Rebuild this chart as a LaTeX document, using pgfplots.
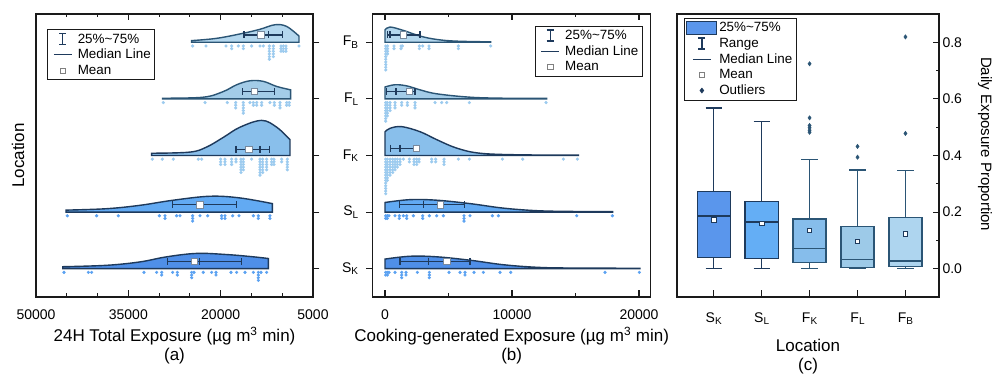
\documentclass[border=0pt]{standalone}
\usepackage{fontspec}
\setmainfont{Liberation Sans}
\usepackage{pgfplots}
\pgfplotsset{compat=1.18}

\definecolor{dk}{HTML}{1E3A5C}
\definecolor{dkF}{HTML}{2B5575}
\definecolor{vSK}{HTML}{4F8FE8}
\definecolor{vSL}{HTML}{62AAF3}
\definecolor{vFK}{HTML}{89BFEB}
\definecolor{vFL}{HTML}{A3CCE8}
\definecolor{vFB}{HTML}{B4D7EE}
\definecolor{dotS}{HTML}{5BA2F2}
\definecolor{dotF}{HTML}{9CCBEF}
\definecolor{bSK}{HTML}{5A96EC}
\definecolor{bSL}{HTML}{64AEF5}
\definecolor{bFK}{HTML}{86BDEB}
\definecolor{bFL}{HTML}{9DCAE8}
\definecolor{bFB}{HTML}{AED5EF}
\definecolor{frame}{HTML}{1A1A1A}

\newcommand{\tickfont}{\fontsize{14}{16}\selectfont}
\newcommand{\labfont}{\fontsize{17}{19}\selectfont}
\newcommand{\legfont}{\fontsize{13.4}{15}\selectfont}
\newcommand{\sub}[1]{\raisebox{-0.35ex}{\fontsize{10}{10}\selectfont #1}}

\pgfplotsset{
  base/.style={
    scale only axis, height=283pt,
    axis line style={line width=1.4pt, frame},
    tick style={line width=1.1pt, frame},
    major tick length=6.5pt, minor tick length=3.5pt,
    tick align=inside,
    tick label style={font=\tickfont},
    label style={font=\labfont},
    /pgf/number format/assume math mode=true,
    /pgf/number format/1000 sep={},
    scaled ticks=false,
    legend style={font=\legfont, draw=frame, line width=0.8pt, inner xsep=2pt, inner ysep=2pt,
      row sep=0.7pt, column sep=0pt, fill=white},
    legend cell align=left,
  },
  % legend images (width W, centre W/2)
  limgIbar/.style={legend image code/.code={
     \path[draw=none, fill=none] (0pt,0pt) -- (#1,0pt);
     \draw[dk, line width=1.3pt] (#1/2,-5.5pt) -- (#1/2,5.5pt);
     \draw[dk, line width=1.3pt] (#1/2-3.5pt,-5.5pt) -- (#1/2+3.5pt,-5.5pt);
     \draw[dk, line width=1.3pt] (#1/2-3.5pt,5.5pt) -- (#1/2+3.5pt,5.5pt);}},
  limgLine/.style={legend image code/.code={
     \path[draw=none, fill=none] (0pt,0pt) -- (#1,0pt);
     \draw[dk, line width=1.3pt] (#1/2-9pt,0pt) -- (#1/2+9pt,0pt);}},
  limgMean/.style={legend image code/.code={
     \path[draw=none, fill=none] (0pt,0pt) -- (#1,0pt);
     \draw[gray, fill=white, line width=0.6pt] (#1/2-2.6pt,-2.6pt) rectangle (#1/2+2.6pt,2.6pt);}},
  limgMeanS/.style={legend image code/.code={
     \path[draw=none, fill=none] (0pt,0pt) -- (#1,0pt);
     \draw[gray, fill=white, line width=0.6pt] (#1/2-2.2pt,-2.2pt) rectangle (#1/2+2.2pt,2.2pt);}},
  limgOut/.style={legend image code/.code={
     \path[draw=none, fill=none] (0pt,0pt) -- (#1,0pt);
     \fill[dk] (#1/2,2.3pt) -- (#1/2+1.8pt,0pt) -- (#1/2,-2.3pt) -- (#1/2-1.8pt,0pt) -- cycle;}},
  limgBox/.style={legend image code/.code={
     \draw[draw=dk, fill=bSK, line width=0.8pt] (0pt,-6.5pt) rectangle (#1,6.5pt);}},
  ibox/.style={dk, line width=1.2pt, mark=|, mark size=3.5pt, mark options={solid, line width=1.2pt}, forget plot},
  imed/.style={dk, only marks, mark=|, mark size=3.5pt, mark options={line width=1.2pt}, forget plot},
  imean/.style={only marks, mark=square*, mark size=3.2pt, mark options={fill=white, draw=dk!60, line width=0.6pt}, forget plot},
  dotsS/.style={only marks, color=dotS, mark=*, mark size=1.4pt, forget plot},
  dotsF/.style={only marks, color=dotF, mark=*, mark size=1.4pt, forget plot},
  vio/.style={fill=#1, line width=1.4pt, smooth, tension=0.6, forget plot},
  cbox/.style={line width=1.3pt, forget plot},
}

\begin{document}
\begin{tikzpicture}
\path[use as bounding box, fill=white] (0,0) rectangle (994pt,374pt);

% ================= Panel (a) =================
\begin{axis}[base,
  at={(36pt,77pt)}, anchor=south west, width=277pt,
  xmin=5000, xmax=50000, x dir=reverse,
  ymin=0.5, ymax=5.5,
  xtick={5000,20000,35000,50000},
  minor xtick={10000,15000,25000,30000,40000,45000},
  xtick pos=both, xticklabel pos=left,
  ytick={1,2,3,4,5}, yticklabels={}, ytick pos=right,
  y tick style={xshift=6.5pt},
  xticklabel style={yshift=-9.5pt},
  xlabel={24H Total Exposure (µg m\textsuperscript{3} min)\\(a)},
  xlabel style={align=center, at={(axis description cs:0.5,0)}, anchor=north, yshift=-30pt, inner sep=0pt},
  ylabel={Location},
  ylabel style={at={(axis description cs:-0.065,0.5)}, anchor=center},
  legend style={at={(0.041,0.946)}, anchor=north west},
]
% dots
\addplot[dotsS] table[row sep=\\, x=x, y expr={1-0.065-0.047*\thisrow{r}}] {x r\\
45450 0\\41500 0\\40960 0\\32460 0\\30400 0\\29580 0\\29580 1\\27800 0\\27040 0\\27040 1\\
24710 0\\24710 1\\24710 2\\24330 0\\22820 0\\21460 0\\20760 0\\20760 1\\18320 0\\17400 0\\
16050 0\\14690 0\\13880 0\\13880 1\\13880 2\\13880 3\\13450 0\\12530 0\\};
\addplot[dotsS] table[row sep=\\, x=x, y expr={2-0.065-0.047*\thisrow{r}}] {x r\\
44910 0\\40150 0\\36630 0\\29960 0\\29040 0\\29040 1\\27150 0\\26610 0\\24550 0\\24550 1\\
24550 2\\23360 0\\22110 0\\19840 0\\19840 1\\19300 0\\19300 1\\18050 0\\17020 0\\14690 0\\
13880 0\\13880 1\\12000 0\\12000 1\\};
\addplot[dotsF] table[row sep=\\, x=x, y expr={3-0.065-0.047*\thisrow{r}}] {x r\\
31100 0\\29480 0\\27690 0\\23630 0\\23090 0\\20000 0\\20000 1\\20000 2\\19300 0\\19300 1\\
19300 2\\18220 0\\18220 1\\18220 2\\17510 0\\17510 1\\16700 0\\16700 1\\16700 2\\16700 3\\
16700 4\\16700 5\\16320 0\\16320 1\\16320 2\\16320 3\\16320 4\\14970 0\\13610 0\\13610 1\\
13610 2\\13610 3\\13610 4\\13610 5\\13610 6\\13180 0\\13180 1\\13180 2\\13180 3\\13180 4\\
13180 5\\12530 0\\12530 1\\12530 2\\12530 3\\12530 4\\11720 0\\11720 1\\11720 2\\11340 0\\
11340 1\\11340 2\\10090 0\\10090 1\\9170 0\\9170 1\\9170 2\\9170 3\\9170 4\\};
\addplot[dotsF] table[row sep=\\, x=x, y expr={4-0.065-0.047*\thisrow{r}}] {x r\\
29310 0\\22540 0\\18920 0\\17560 0\\17560 1\\17560 2\\16320 0\\16320 1\\16320 2\\16320 3\\
16320 4\\15240 0\\14690 0\\14690 1\\14150 0\\14150 1\\13340 0\\13340 1\\11990 0\\11280 0\\
11280 1\\10360 0\\10360 1\\10360 2\\9280 0\\9280 1\\8850 0\\8850 1\\};
\addplot[dotsF] table[row sep=\\, x=x, y expr={5-0.065-0.047*\thisrow{r}}] {x r\\
24550 0\\22380 0\\19130 0\\18210 0\\18210 1\\17130 0\\16320 0\\16320 1\\14970 0\\13610 0\\
13070 0\\12090 0\\12090 1\\12090 2\\12090 3\\12090 4\\12090 5\\11440 0\\11440 1\\11440 2\\
11440 3\\11440 4\\10200 0\\10200 1\\10200 2\\9820 0\\9820 1\\9820 2\\9390 0\\9390 1\\
9390 2\\7280 0\\};
% violins
\addplot[vio=vSK, draw=dk] coordinates {(45660,1.035) (38520,1.06) (33100,1.12) (28770,1.21) (23900,1.27) (19020,1.25) (14700,1.21) (12260,1.18)} -- (axis cs:12260,1) -- (axis cs:45660,1) -- cycle;
\addplot[vio=vSL, draw=dk] coordinates {(45130,2.035) (38520,2.06) (33100,2.12) (27700,2.21) (21740,2.28) (16860,2.25) (11600,2.15)} -- (axis cs:11600,2) -- (axis cs:45130,2) -- cycle;
\addplot[vio=vFK, draw=dk] coordinates {(31205,3.04) (24984,3.06) (22270,3.15) (19570,3.32) (16860,3.50) (13340,3.62) (10900,3.50) (8740,3.28)} -- (axis cs:8740,3) -- (axis cs:31205,3) -- cycle;
\addplot[vio=vFL, draw=dkF] coordinates {(29420,4.012) (22820,4.03) (19570,4.13) (17400,4.25) (15240,4.32) (13080,4.31) (10900,4.22) (8630,4.16)} -- (axis cs:8630,4) -- (axis cs:29420,4) -- cycle;
\addplot[vio=vFB, draw=dkF] coordinates {(24710,5.03) (20650,5.07) (16320,5.16) (13610,5.23) (11180,5.31) (9280,5.28) (7280,5.11)} -- (axis cs:7280,5) -- (axis cs:24710,5) -- cycle;
% boxes
\addplot[ibox] coordinates {(28600,1.13) (16590,1.13)};
\addplot[imed] coordinates {(23500,1.13)};
\addplot[imean] coordinates {(24280,1.13)};
\addplot[ibox] coordinates {(27860,2.13) (17400,2.13)};
\addplot[imed] coordinates {(22800,2.13)};
\addplot[imean] coordinates {(23360,2.13)};
\addplot[ibox] coordinates {(17510,3.11) (12100,3.11)};
\addplot[imed] coordinates {(13610,3.11)};
\addplot[imean] coordinates {(15400,3.11)};
\addplot[ibox] coordinates {(16420,4.13) (11290,4.13)};
\addplot[imed] coordinates {(14260,4.13)};
\addplot[imean] coordinates {(14540,4.13)};
\addplot[ibox] coordinates {(16210,5.13) (9990,5.13)};
\addplot[imed] coordinates {(12260,5.13)};
\addplot[imean] coordinates {(13500,5.13)};
% legend
\addlegendimage{limgIbar=26pt}
\addlegendentry{25\%\string~75\%}
\addlegendimage{limgLine=26pt}
\addlegendentry{Median Line}
\addlegendimage{limgMean=26pt}
\addlegendentry{Mean}
\end{axis}

% ================= Panel (b) =================
\begin{axis}[base,
  at={(372.7pt,77pt)}, anchor=south west, width=278pt,
  xmin=-970, xmax=20920,
  ymin=0.5, ymax=5.5,
  xtick={0,10000,20000},
  minor xtick={5000,15000},
  xtick pos=both, xticklabel pos=left,
  ytick={1,2,3,4,5}, ytick pos=left,
  yticklabels={S\sub{K},S\sub{L},F\sub{K},F\sub{L},F\sub{B}},
  y tick style={xshift=-6.5pt},
  yticklabel style={xshift=-11pt},
  xticklabel style={yshift=-9.5pt},
  xlabel={Cooking-generated Exposure (µg m\textsuperscript{3} min)\\(b)},
  xlabel style={align=center, at={(axis description cs:0.5,0)}, anchor=north, yshift=-30pt, inner sep=0pt},
  legend style={at={(0.971,0.959)}, anchor=north east},
]
\addplot[dotsS] table[row sep=\\, x=x, y expr={1-0.065-0.047*\thisrow{r}}] {x r\\
53 0\\53 1\\184 0\\184 1\\315 0\\788 0\\1313 0\\1313 1\\1313 2\\1654 0\\1654 1\\2546 0\\
3491 0\\3491 1\\3491 2\\5040 0\\5906 0\\6300 0\\6300 1\\7009 0\\7744 0\\9056 0\\9896 0\\
17325 0\\20029 0\\};
\addplot[dotsS] table[row sep=\\, x=x, y expr={2-0.065-0.047*\thisrow{r}}] {x r\\
53 0\\53 1\\184 0\\184 1\\315 0\\788 0\\1129 0\\1129 1\\1444 0\\1706 0\\1706 1\\2231 0\\
2966 0\\2966 1\\3491 0\\4069 0\\4594 0\\6221 0\\6221 1\\6221 2\\6694 0\\8453 0\\8926 0\\
15094 0\\17903 0\\};
\addplot[dotsF] table[row sep=\\, x=x, y expr={3-0.065-0.047*\thisrow{r}}] {x r\\
53 0\\53 1\\53 2\\53 3\\53 4\\53 5\\53 6\\53 7\\53 8\\53 9\\53 10\\53 11\\53 12\\53 13\\
184 0\\184 1\\184 2\\184 3\\184 4\\184 5\\184 6\\184 7\\184 8\\
394 0\\394 1\\394 2\\394 3\\394 4\\394 5\\394 6\\
604 0\\604 1\\604 2\\604 3\\604 4\\604 5\\
788 0\\788 1\\788 2\\788 3\\788 4\\971 0\\971 1\\971 2\\971 3\\1181 0\\1181 1\\1181 2\\
1444 0\\1917 0\\1917 1\\2284 0\\2284 1\\2284 2\\2494 0\\2494 1\\2494 2\\2678 0\\2678 1\\
3675 0\\3675 1\\3990 0\\3990 1\\4646 0\\4646 1\\4646 2\\5775 0\\6641 0\\9240 0\\10842 0\\
14044 0\\15147 0\\};
\addplot[dotsF] table[row sep=\\, x=x, y expr={4-0.065-0.047*\thisrow{r}}] {x r\\
53 0\\53 1\\53 2\\53 3\\53 4\\53 5\\53 6\\53 7\\184 0\\184 1\\184 2\\184 3\\184 4\\184 5\\
394 0\\394 1\\394 2\\394 3\\788 0\\788 1\\788 2\\1313 0\\1313 1\\1759 0\\1759 1\\
2363 0\\2363 1\\2363 2\\3938 0\\4463 0\\4856 0\\6641 0\\12679 0\\};
\addplot[dotsF] table[row sep=\\, x=x, y expr={5-0.065-0.047*\thisrow{r}}] {x r\\
60 0\\60 1\\60 2\\60 3\\60 4\\60 5\\60 6\\60 7\\60 8\\60 9\\200 0\\200 1\\200 2\\200 3\\
709 0\\709 1\\1260 0\\1260 1\\1365 0\\2704 0\\2704 1\\2966 0\\3465 0\\3465 1\\
5775 0\\5775 1\\8320 0\\};
% violins
\addplot[vio=vSK, draw=dk] coordinates {(0,1.17) (1970,1.22) (4070,1.21) (6690,1.15) (9320,1.07) (11940,1.025) (14570,1.012) (20080,1.008)} -- (axis cs:20080,1) -- (axis cs:0,1) -- cycle;
\addplot[vio=vSL, draw=dk] coordinates {(0,2.17) (1970,2.22) (4070,2.21) (6690,2.15) (9320,2.07) (11940,2.025) (14570,2.012) (17930,2.008)} -- (axis cs:17930,2) -- (axis cs:0,2) -- cycle;
\addplot[vio=vFK, draw=dk] coordinates {(0,3.42) (390,3.48) (1310,3.51) (2760,3.42) (4070,3.28) (5650,3.13) (7480,3.04) (10630,3.012) (15220,3.008)} -- (axis cs:15220,3) -- (axis cs:0,3) -- cycle;
\addplot[vio=vFL, draw=dkF] coordinates {(0,4.21) (785,4.25) (1710,4.23) (2760,4.16) (4070,4.09) (6690,4.03) (9320,4.012) (12730,4.008)} -- (axis cs:12730,4) -- (axis cs:0,4) -- cycle;
\addplot[vio=vFB, draw=dkF] coordinates {(0,5.22) (390,5.27) (1440,5.21) (2760,5.11) (4070,5.05) (5650,5.02) (8320,5.008)} -- (axis cs:8320,5) -- (axis cs:0,5) -- cycle;
% boxes
\addplot[ibox] coordinates {(1180,1.13) (6690,1.13)};
\addplot[imed] coordinates {(3440,1.13)};
\addplot[imean] coordinates {(4860,1.13)};
\addplot[ibox] coordinates {(1130,2.13) (6250,2.13)};
\addplot[imed] coordinates {(3020,2.13)};
\addplot[imean] coordinates {(4330,2.13)};
\addplot[ibox] coordinates {(450,3.13) (2500,3.13)};
\addplot[imed] coordinates {(1180,3.13)};
\addplot[imean] coordinates {(2440,3.13)};
\addplot[ibox] coordinates {(130,4.13) (2360,4.13)};
\addplot[imed] coordinates {(870,4.13)};
\addplot[imean] coordinates {(1890,4.13)};
\addplot[ibox] coordinates {(180,5.13) (2760,5.13)};
\addplot[imed] coordinates {(390,5.13)};
\addplot[imean] coordinates {(1440,5.13)};
\addlegendimage{limgIbar=26pt}
\addlegendentry{25\%\string~75\%}
\addlegendimage{limgLine=26pt}
\addlegendentry{Median Line}
\addlegendimage{limgMean=26pt}
\addlegendentry{Mean}
\end{axis}

% ================= Panel (c) =================
\begin{axis}[base,
  at={(677pt,77pt)}, anchor=south west, width=262pt,
  xmin=0.234, xmax=5.70, ymin=-0.1, ymax=0.9,
  xtick={1,2,3,4,5},
  xticklabels={S\sub{K},S\sub{L},F\sub{K},F\sub{L},F\sub{B}},
  xtick pos=left,
  ytick={0,0.2,0.4,0.6,0.8}, minor ytick={0.1,0.3,0.5,0.7},
  ytick pos=right, yticklabel pos=right,
  yticklabel style={/pgf/number format/.cd, fixed, fixed zerofill, precision=1},
  xticklabel style={yshift=-12pt},
  xlabel={Location\\(c)},
  xlabel style={align=center, at={(axis description cs:0.5,0)}, anchor=north, yshift=-42pt, inner sep=0pt},
  ylabel={Daily Exposure Proportion},
  ylabel style={at={(axis description cs:1.176,0.54)}, anchor=center, rotate=180, font=\fontsize{15}{17}\selectfont},
  legend style={at={(0.027,0.985)}, anchor=north west},
  unbounded coords=jump,
]
% whiskers (vertical lines and caps)
\addplot[cbox, dk] coordinates {(1,0) (1,0.568) (nan,nan) (0.83,0) (1.17,0) (nan,nan) (0.83,0.568) (1.17,0.568)};
\addplot[cbox, dk] coordinates {(2,0) (2,0.521) (nan,nan) (1.83,0) (2.17,0) (nan,nan) (1.83,0.521) (2.17,0.521)};
\addplot[cbox, dkF] coordinates {(3,0) (3,0.385) (nan,nan) (2.83,0) (3.17,0) (nan,nan) (2.83,0.385) (3.17,0.385)};
\addplot[cbox, dkF] coordinates {(4,0) (4,0.349) (nan,nan) (3.83,0) (4.17,0) (nan,nan) (3.83,0.349) (4.17,0.349)};
\addplot[cbox, dkF] coordinates {(5,0) (5,0.347) (nan,nan) (4.83,0) (5.17,0) (nan,nan) (4.83,0.347) (5.17,0.347)};
% boxes
\addplot[cbox, draw=dk, fill=bSK] coordinates {(0.655,0.039) (1.345,0.039) (1.345,0.273) (0.655,0.273)} -- cycle;
\addplot[cbox, draw=dk, fill=bSL] coordinates {(1.655,0.035) (2.345,0.035) (2.345,0.238) (1.655,0.238)} -- cycle;
\addplot[cbox, draw=dkF, fill=bFK] coordinates {(2.655,0.021) (3.345,0.021) (3.345,0.176) (2.655,0.176)} -- cycle;
\addplot[cbox, draw=dkF, fill=bFL] coordinates {(3.655,0.003) (4.345,0.003) (4.345,0.150) (3.655,0.150)} -- cycle;
\addplot[cbox, draw=dkF, fill=bFB] coordinates {(4.655,0.007) (5.345,0.007) (5.345,0.182) (4.655,0.182)} -- cycle;
% medians
\addplot[cbox, dk] coordinates {(0.655,0.186) (1.345,0.186)};
\addplot[cbox, dk] coordinates {(1.655,0.165) (2.345,0.165)};
\addplot[cbox, dkF] coordinates {(2.655,0.071) (3.345,0.071)};
\addplot[cbox, dkF] coordinates {(3.655,0.032) (4.345,0.032)};
\addplot[cbox, dkF] coordinates {(4.655,0.027) (5.345,0.027)};
% outliers
\addplot[forget plot, only marks, color=dkF, mark=diamond*, mark size=2.2pt]
  coordinates {(3,0.724) (3,0.533) (3,0.506) (3,0.498) (3,0.489) (3,0.482) (4,0.432) (4,0.394) (5,0.819) (5,0.478)};
% means
\addplot[forget plot, only marks, mark=square*, mark size=2.2pt, mark options={fill=white, draw=dk, line width=0.7pt}]
  coordinates {(1,0.173) (2,0.160) (3,0.135) (4,0.097) (5,0.123)};
\addlegendimage{limgBox=30pt}
\addlegendentry{25\%\string~75\%}
\addlegendimage{limgIbar=30pt}
\addlegendentry{Range}
\addlegendimage{limgLine=30pt}
\addlegendentry{Median Line}
\addlegendimage{limgMeanS=30pt}
\addlegendentry{Mean}
\addlegendimage{limgOut=30pt}
\addlegendentry{Outliers}
\end{axis}
\end{tikzpicture}
\end{document}
